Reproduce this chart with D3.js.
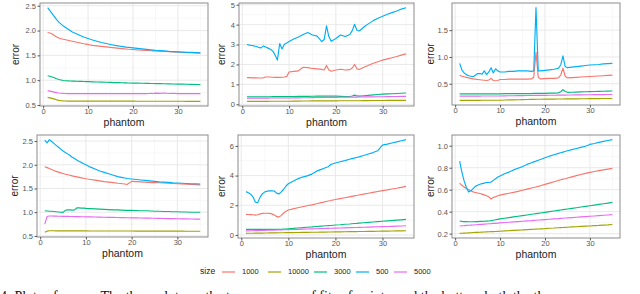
<!DOCTYPE html>
<html><head><meta charset="utf-8">
<script src="https://cdn.jsdelivr.net/npm/d3@7"></script>
<style>body{margin:0;background:#fff}svg{display:block}</style>
</head><body><svg id="c" width="640" height="294"></svg>
<script>
// ---------- DATA ----------
const phantom = [1,1.5,2,2.5,3,3.5,4,4.5,5,5.5, 6,6.5,7,7.5,8,8.5,9,9.5,10, 11,12,13,14,15,16,17, 17.5,18,18.5,19,20, 21,22,23,23.5,24,24.5,25, 26,27,28,29,30,31,32,33,34,35];
const sizeLevels = ["1000","10000","3000","500","5000"];
const sizeColors = ["#F8766D","#A3A500","#00BF7D","#00B0F6","#E76BF3"];

// panel 1 (top left)
const p1_1000 = [1.96,1.95,1.93,1.90,1.87,1.85,1.835,1.825,1.815,1.805, 1.795,1.785,1.775,1.765,1.755,1.745,1.735,1.727,1.72, 1.70,1.69,1.68,1.67,1.66,1.65,1.64, 1.636,1.632,1.628,1.624,1.618, 1.61,1.605,1.60,1.597,1.594,1.591,1.588, 1.583,1.578,1.574,1.57,1.566,1.562,1.558,1.554,1.55,1.545];
const p1_10000 = [0.655,0.645,0.635,0.62,0.605,0.594,0.587,0.583,0.581,0.58, 0.58,0.58,0.58,0.58,0.579,0.579,0.579,0.579,0.579, 0.578,0.578,0.578,0.578,0.578,0.578,0.578, 0.578,0.578,0.578,0.578,0.578, 0.577,0.577,0.577,0.577,0.577,0.577,0.577, 0.577,0.577,0.576,0.576,0.576,0.576,0.575,0.575,0.575,0.575];
const p1_3000 = [1.09,1.08,1.065,1.05,1.03,1.015,1.005,0.995,0.99,0.988, 0.985,0.983,0.981,0.979,0.977,0.975,0.973,0.971,0.97, 0.967,0.964,0.961,0.958,0.955,0.952,0.95, 0.948,0.947,0.946,0.944,0.942, 0.94,0.938,0.936,0.935,0.934,0.933,0.932, 0.93,0.928,0.926,0.924,0.922,0.92,0.918,0.916,0.914,0.912];
const p1_500 = [2.46,2.40,2.34,2.28,2.22,2.17,2.13,2.09,2.06,2.03, 2.00,1.97,1.95,1.93,1.91,1.89,1.87,1.855,1.84, 1.81,1.785,1.76,1.74,1.72,1.70,1.685, 1.68,1.672,1.665,1.66,1.65, 1.64,1.63,1.62,1.615,1.61,1.605,1.60, 1.595,1.59,1.58,1.575,1.57,1.565,1.56,1.56,1.555,1.55];
const p1_5000 = [0.79,0.78,0.77,0.76,0.75,0.742,0.737,0.734,0.732,0.731, 0.73,0.73,0.73,0.73,0.73,0.73,0.73,0.73,0.73, 0.73,0.73,0.73,0.73,0.73,0.73,0.73, 0.73,0.73,0.73,0.73,0.73, 0.73,0.731,0.73,0.732,0.738,0.733,0.741, 0.735,0.742,0.733,0.738,0.731,0.73,0.73,0.73,0.73,0.73];

// panel 2 (top middle)
const p2_1000 = [1.34,1.34,1.33,1.33,1.33,1.32,1.32,1.33,1.37,1.37, 1.37,1.36,1.35,1.36,1.35,1.36,1.37,1.40,1.62, 1.65,1.68,1.86,1.84,1.80,1.78,1.75, 1.72,1.95,1.72,1.66,1.72, 1.76,1.72,1.74,1.82,2.00,1.78,1.75, 1.86,1.96,2.06,2.14,2.22,2.28,2.34,2.40,2.47,2.53];
const p2_10000 = [0.15,0.15,0.15,0.15,0.15,0.15,0.15,0.15,0.15,0.15, 0.155,0.155,0.155,0.155,0.155,0.155,0.155,0.155,0.155, 0.16,0.16,0.165,0.165,0.17,0.17,0.17, 0.175,0.175,0.175,0.175,0.175, 0.18,0.18,0.18,0.18,0.18,0.18,0.18, 0.185,0.185,0.19,0.19,0.19,0.195,0.195,0.195,0.2,0.2];
const p2_3000 = [0.38,0.38,0.38,0.38,0.38,0.38,0.38,0.38,0.38,0.38, 0.38,0.385,0.385,0.385,0.385,0.385,0.385,0.385,0.385, 0.39,0.395,0.40,0.40,0.405,0.41,0.41, 0.41,0.41,0.41,0.41,0.41, 0.40,0.39,0.39,0.42,0.46,0.42,0.41, 0.43,0.45,0.47,0.49,0.51,0.52,0.53,0.545,0.555,0.57];
const p2_500 = [3.00,2.97,2.95,2.93,2.90,2.86,2.83,2.93,2.88,2.82, 2.76,2.68,2.48,2.22,3.05,2.78,3.02,3.08,3.15, 3.28,3.38,3.50,3.60,3.48,3.42,3.15, 3.25,3.94,3.40,3.17,3.30, 3.48,3.40,3.50,3.70,4.02,3.72,3.68, 3.88,4.05,4.20,4.32,4.42,4.52,4.60,4.68,4.78,4.85];
const p2_5000 = [0.31,0.31,0.31,0.31,0.31,0.31,0.31,0.31,0.31,0.31, 0.315,0.315,0.315,0.315,0.315,0.315,0.315,0.315,0.315, 0.32,0.325,0.33,0.33,0.335,0.34,0.34, 0.345,0.345,0.345,0.35,0.35, 0.355,0.355,0.36,0.36,0.36,0.36,0.365, 0.37,0.37,0.375,0.38,0.38,0.385,0.39,0.39,0.395,0.40];

// panel 3 (top right)
const p3_1000 = [0.66,0.64,0.63,0.62,0.61,0.60,0.59,0.585,0.58,0.575, 0.57,0.565,0.56,0.57,0.60,0.56,0.555,0.56,0.58, 0.58,0.585,0.585,0.585,0.585,0.585,0.59, 0.62,1.09,0.62,0.59,0.595, 0.60,0.60,0.61,0.66,0.79,0.64,0.61, 0.615,0.62,0.625,0.63,0.635,0.64,0.645,0.65,0.655,0.66];
const p3_10000 = [0.19,0.19,0.19,0.19,0.19,0.19,0.19,0.19,0.19,0.19, 0.193,0.193,0.193,0.193,0.193,0.193,0.193,0.193,0.193, 0.196,0.198,0.2,0.202,0.204,0.206,0.208, 0.209,0.21,0.21,0.211,0.212, 0.213,0.214,0.215,0.216,0.216,0.217,0.217, 0.218,0.219,0.22,0.221,0.222,0.222,0.223,0.224,0.224,0.225];
const p3_3000 = [0.31,0.31,0.31,0.31,0.31,0.31,0.31,0.31,0.31,0.31, 0.31,0.31,0.31,0.31,0.31,0.31,0.31,0.31,0.31, 0.315,0.315,0.315,0.315,0.315,0.315,0.315, 0.32,0.32,0.32,0.32,0.32, 0.325,0.325,0.33,0.35,0.39,0.355,0.34, 0.342,0.345,0.348,0.35,0.352,0.355,0.358,0.36,0.362,0.365];
const p3_500 = [0.88,0.76,0.70,0.67,0.65,0.64,0.63,0.66,0.69,0.69, 0.68,0.74,0.67,0.72,0.80,0.70,0.78,0.74,0.72, 0.72,0.73,0.73,0.74,0.74,0.74,0.73, 0.74,1.92,0.74,0.74,0.75, 0.76,0.77,0.79,0.85,1.02,0.82,0.80, 0.81,0.82,0.83,0.84,0.85,0.855,0.86,0.87,0.875,0.88];
const p3_5000 = [0.27,0.27,0.27,0.27,0.27,0.27,0.27,0.27,0.27,0.27, 0.272,0.272,0.272,0.272,0.272,0.272,0.272,0.272,0.272, 0.275,0.276,0.277,0.278,0.279,0.28,0.281, 0.282,0.282,0.283,0.283,0.284, 0.285,0.286,0.287,0.288,0.288,0.289,0.29, 0.291,0.292,0.293,0.294,0.295,0.296,0.297,0.298,0.299,0.30];

// panel 4 (bottom left)
const p4_1000 = [1.96,1.94,1.92,1.90,1.88,1.86,1.845,1.83,1.815,1.80, 1.79,1.78,1.765,1.755,1.745,1.735,1.725,1.715,1.705, 1.69,1.675,1.66,1.645,1.635,1.625,1.61, 1.605,1.60,1.595,1.585,1.65, 1.645,1.64,1.635,1.63,1.63,1.625,1.625, 1.62,1.615,1.61,1.605,1.60,1.595,1.59,1.585,1.58,1.575];
const p4_10000 = [0.575,0.60,0.61,0.61,0.608,0.607,0.606,0.606,0.605,0.605, 0.605,0.605,0.605,0.605,0.605,0.605,0.605,0.605,0.605, 0.604,0.604,0.604,0.604,0.604,0.604,0.604, 0.603,0.603,0.603,0.603,0.603, 0.602,0.602,0.602,0.602,0.602,0.602,0.602, 0.601,0.601,0.6,0.6,0.6,0.6,0.599,0.599,0.599,0.599];
const p4_3000 = [1.03,1.025,1.02,1.02,1.015,1.01,1.005,1.0,0.995,1.04, 1.05,1.05,1.045,1.05,1.09,1.09,1.085,1.085,1.08, 1.075,1.07,1.065,1.06,1.055,1.05,1.05, 1.045,1.045,1.04,1.04,1.04, 1.035,1.03,1.03,1.03,1.025,1.025,1.02, 1.02,1.015,1.015,1.01,1.01,1.005,1.005,1.0,1.0,1.0];
const p4_500 = [2.52,2.46,2.53,2.49,2.45,2.41,2.37,2.33,2.29,2.26, 2.23,2.20,2.16,2.13,2.10,2.07,2.05,2.02,2.00, 1.95,1.91,1.87,1.84,1.81,1.78,1.75, 1.74,1.73,1.72,1.71,1.70, 1.69,1.68,1.67,1.665,1.66,1.655,1.65, 1.64,1.635,1.63,1.62,1.615,1.61,1.605,1.60,1.60,1.595];
const p4_5000 = [0.75,0.91,0.92,0.92,0.918,0.916,0.915,0.914,0.913,0.912, 0.911,0.91,0.909,0.908,0.907,0.906,0.905,0.904,0.903, 0.90,0.898,0.896,0.894,0.892,0.89,0.888, 0.887,0.886,0.885,0.884,0.882, 0.88,0.878,0.876,0.875,0.874,0.873,0.872, 0.87,0.868,0.866,0.864,0.862,0.86,0.858,0.856,0.855,0.854];

// panel 5 (bottom middle)
const p5_1000 = [1.39,1.38,1.37,1.36,1.34,1.36,1.42,1.45,1.46,1.46, 1.45,1.42,1.35,1.25,1.20,1.32,1.48,1.60,1.68, 1.76,1.83,1.90,1.97,2.03,2.10,2.18, 2.21,2.25,2.29,2.32,2.39, 2.45,2.51,2.57,2.60,2.63,2.66,2.69, 2.75,2.81,2.87,2.93,2.99,3.04,3.10,3.15,3.21,3.27];
const p5_10000 = [0.11,0.112,0.115,0.117,0.12,0.122,0.125,0.127,0.13,0.132, 0.135,0.137,0.14,0.142,0.145,0.147,0.15,0.152,0.155, 0.16,0.165,0.17,0.175,0.18,0.185,0.19, 0.193,0.195,0.198,0.20,0.205, 0.21,0.215,0.22,0.222,0.225,0.228,0.23, 0.235,0.24,0.245,0.25,0.255,0.26,0.265,0.27,0.275,0.28];
const p5_3000 = [0.38,0.38,0.38,0.38,0.38,0.38,0.38,0.38,0.38,0.38, 0.38,0.38,0.38,0.38,0.38,0.38,0.39,0.40,0.42, 0.44,0.47,0.49,0.52,0.54,0.57,0.59, 0.60,0.62,0.63,0.64,0.67, 0.69,0.72,0.74,0.755,0.77,0.78,0.795, 0.82,0.845,0.87,0.895,0.92,0.945,0.97,0.995,1.02,1.045];
const p5_500 = [2.92,2.85,2.75,2.55,2.20,2.18,2.55,2.78,2.90,2.95, 2.97,2.98,2.96,2.82,2.76,2.90,3.08,3.30,3.45, 3.62,3.78,3.90,3.98,4.10,4.30,4.42, 4.48,4.54,4.60,4.75,4.85, 4.93,5.01,5.10,5.14,5.18,5.22,5.26, 5.35,5.45,5.55,5.68,6.05,6.12,6.20,6.27,6.35,6.42];
const p5_5000 = [0.27,0.275,0.28,0.285,0.29,0.295,0.30,0.305,0.31,0.315, 0.32,0.325,0.33,0.335,0.34,0.345,0.35,0.355,0.36, 0.37,0.38,0.39,0.40,0.41,0.42,0.43, 0.435,0.44,0.445,0.45,0.46, 0.47,0.48,0.49,0.495,0.50,0.505,0.51, 0.52,0.53,0.54,0.55,0.56,0.57,0.58,0.59,0.605,0.62];

// panel 6 (bottom right)
const p6_1000 = [0.66,0.64,0.625,0.61,0.60,0.59,0.58,0.575,0.57,0.565, 0.56,0.553,0.545,0.535,0.515,0.53,0.535,0.545,0.55, 0.56,0.568,0.576,0.585,0.595,0.605,0.615, 0.62,0.625,0.63,0.636,0.648, 0.66,0.672,0.684,0.69,0.696,0.70,0.706, 0.717,0.728,0.738,0.748,0.757,0.765,0.773,0.78,0.787,0.794];
const p6_10000 = [0.203,0.204,0.205,0.206,0.207,0.208,0.21,0.211,0.212,0.213, 0.214,0.215,0.216,0.217,0.218,0.219,0.22,0.221,0.222, 0.225,0.227,0.23,0.232,0.234,0.237,0.239, 0.24,0.241,0.242,0.244,0.246, 0.249,0.251,0.254,0.255,0.256,0.257,0.258, 0.261,0.263,0.266,0.268,0.27,0.273,0.275,0.278,0.28,0.283];
const p6_3000 = [0.315,0.312,0.31,0.309,0.308,0.308,0.308,0.309,0.31,0.311, 0.312,0.313,0.314,0.315,0.318,0.322,0.326,0.33,0.334, 0.34,0.346,0.352,0.358,0.364,0.37,0.376, 0.379,0.382,0.385,0.388,0.394, 0.40,0.406,0.412,0.415,0.418,0.421,0.424, 0.43,0.436,0.442,0.448,0.454,0.46,0.466,0.472,0.478,0.484];
const p6_500 = [0.86,0.76,0.68,0.62,0.58,0.59,0.61,0.63,0.64,0.65, 0.655,0.66,0.665,0.665,0.67,0.685,0.70,0.715,0.725, 0.745,0.76,0.78,0.795,0.81,0.83,0.845, 0.853,0.86,0.868,0.875,0.89, 0.905,0.918,0.93,0.936,0.942,0.948,0.954, 0.965,0.975,0.985,0.995,1.012,1.02,1.03,1.04,1.048,1.055];
const p6_5000 = [0.27,0.272,0.273,0.275,0.276,0.278,0.279,0.281,0.282,0.284, 0.285,0.287,0.288,0.29,0.291,0.293,0.294,0.296,0.298, 0.301,0.304,0.307,0.31,0.313,0.316,0.319, 0.321,0.322,0.324,0.325,0.328, 0.331,0.334,0.337,0.339,0.34,0.342,0.343, 0.346,0.349,0.352,0.355,0.358,0.361,0.364,0.367,0.37,0.373];

const xTicks = [0,10,20,30];
const yTicks1 = [0.5,1.0,1.5,2.0,2.5];
const yTicks2 = [0,1,2,3,4,5];
const yTicks3 = [0.5,1.0,1.5];
const yTicks4 = [0.5,1.0,1.5,2.0,2.5];
const yTicks5 = [0,2,4,6];
const yTicks6 = [0.2,0.4,0.6,0.8,1.0];
const xTitle = "phantom", yTitle = "error", legendTitle = "size";
const caption = "4: Plots of errors. The three plots on the top are errors of fits of points, and the bottom both the three";

// ---------- LAYOUT ----------
const panels = [
  {s:[p1_1000,p1_10000,p1_3000,p1_500,p1_5000], t:yTicks1, f:".1f", b:[40,3,208,106], yl:16},
  {s:[p2_1000,p2_10000,p2_3000,p2_500,p2_5000], t:yTicks2, f:"d",   b:[239,3,414,106], yl:222},
  {s:[p3_1000,p3_10000,p3_3000,p3_500,p3_5000], t:yTicks3, f:".1f", b:[452,3,620,105], yl:431},
  {s:[p4_1000,p4_10000,p4_3000,p4_500,p4_5000], t:yTicks4, f:".1f", b:[37,135,208,237], yl:15},
  {s:[p5_1000,p5_10000,p5_3000,p5_500,p5_5000], t:yTicks5, f:"d",   b:[238,135,414,238], yl:222},
  {s:[p6_1000,p6_10000,p6_3000,p6_500,p6_5000], t:yTicks6, f:".1f", b:[452,135,620,238], yl:431}
];

const svg = d3.select("#c");
const font = "Liberation Sans, Arial, sans-serif";
const xDom = [1 - 0.05*34, 35 + 0.05*34];

panels.forEach((p, i) => {
  const [x0,y0,x1,y1] = p.b;
  const all = p.s.flat();
  const mn = d3.min(all), mx = d3.max(all), pad = (mx-mn)*0.05;
  const x = d3.scaleLinear().domain(xDom).range([x0,x1]);
  const y = d3.scaleLinear().domain([mn-pad, mx+pad]).range([y1,y0]);
  const g = svg.append("g");
  const clipId = "clip"+i;
  g.append("clipPath").attr("id",clipId).append("rect").attr("x",x0).attr("y",y0).attr("width",x1-x0).attr("height",y1-y0);
  g.append("rect").attr("x",x0).attr("y",y0).attr("width",x1-x0).attr("height",y1-y0).attr("fill","#fff");
  // minor grid
  const xMinor = [5,15,25,35].filter(v=>v>=xDom[0]&&v<=xDom[1]);
  const st = p.t[1]-p.t[0];
  const yMinor = [p.t[0]-st/2, ...p.t.map(v=>v+st/2)].filter(v=>v>=y.domain()[0]&&v<=y.domain()[1]);
  g.selectAll(".xm").data(xMinor).enter().append("line")
    .attr("x1",d=>x(d)).attr("x2",d=>x(d)).attr("y1",y0).attr("y2",y1).attr("stroke","#f3f3f3").attr("stroke-width",0.6);
  g.selectAll(".ym").data(yMinor).enter().append("line")
    .attr("y1",d=>y(d)).attr("y2",d=>y(d)).attr("x1",x0).attr("x2",x1).attr("stroke","#f3f3f3").attr("stroke-width",0.6);
  g.selectAll(".xg").data(xTicks).enter().append("line")
    .attr("x1",d=>x(d)).attr("x2",d=>x(d)).attr("y1",y0).attr("y2",y1).attr("stroke","#e6e6e6").attr("stroke-width",0.9);
  g.selectAll(".yg").data(p.t).enter().append("line")
    .attr("y1",d=>y(d)).attr("y2",d=>y(d)).attr("x1",x0).attr("x2",x1).attr("stroke","#e6e6e6").attr("stroke-width",0.9);
  // lines
  const line = d3.line().x((d,k)=>x(phantom[k])).y(d=>y(d)).curve(d3.curveLinear);
  const lg = g.append("g").attr("clip-path",`url(#${clipId})`);
  p.s.forEach((ser, j) => {
    lg.append("path").datum(ser).attr("d",line).attr("fill","none")
      .attr("stroke",sizeColors[j]).attr("stroke-width",1.15).attr("stroke-linejoin","round");
  });
  // border
  g.append("rect").attr("x",x0).attr("y",y0).attr("width",x1-x0).attr("height",y1-y0)
    .attr("fill","none").attr("stroke","#8c8c8c").attr("stroke-width",1);
  // axes
  const ax = g.append("g").attr("transform",`translate(0,${y1})`)
    .call(d3.axisBottom(x).tickValues(xTicks).tickSize(2.5).tickPadding(0.5).tickFormat(d3.format("d")));
  const ay = g.append("g").attr("transform",`translate(${x0},0)`)
    .call(d3.axisLeft(y).tickValues(p.t).tickSize(2.5).tickPadding(1.5).tickFormat(d3.format(p.f)));
  [ax,ay].forEach(a=>{
    a.select(".domain").remove();
    a.selectAll("line").attr("stroke","#555");
    a.selectAll("text").attr("fill","#555").style("font-family",font).style("font-size","7.5px");
  });
  // titles
  g.append("text").attr("x",(x0+x1)/2).attr("y",y1+20).attr("text-anchor","middle")
    .style("font-family",font).style("font-size","10.5px").attr("fill","#222").text(xTitle);
  g.append("text").attr("transform",`translate(${p.yl},${(y0+y1)/2}) rotate(-90)`)
    .attr("text-anchor","middle").attr("dominant-baseline","middle")
    .style("font-family",font).style("font-size","10px").attr("fill","#222").text(yTitle);
});

// legend
const leg = svg.append("g");
leg.append("text").attr("x",200).attr("y",272).attr("dominant-baseline","middle")
  .style("font-family",font).style("font-size","8.5px").attr("fill","#222").text(legendTitle);
const legX = [222,268,314,356,394];
sizeLevels.forEach((s,j)=>{
  leg.append("line").attr("x1",legX[j]).attr("x2",legX[j]+13).attr("y1",272).attr("y2",272)
    .attr("stroke",sizeColors[j]).attr("stroke-width",1.2);
  leg.append("text").attr("x",legX[j]+20).attr("y",272).attr("dominant-baseline","middle")
    .style("font-family",font).style("font-size","7.5px").attr("fill","#222").text(s);
});

svg.append("text").attr("x",0).attr("y",301)
  .style("font-family","Liberation Serif, Times New Roman, serif").style("font-size","14px").attr("fill","#111").text(caption);
</script>
</body></html>
